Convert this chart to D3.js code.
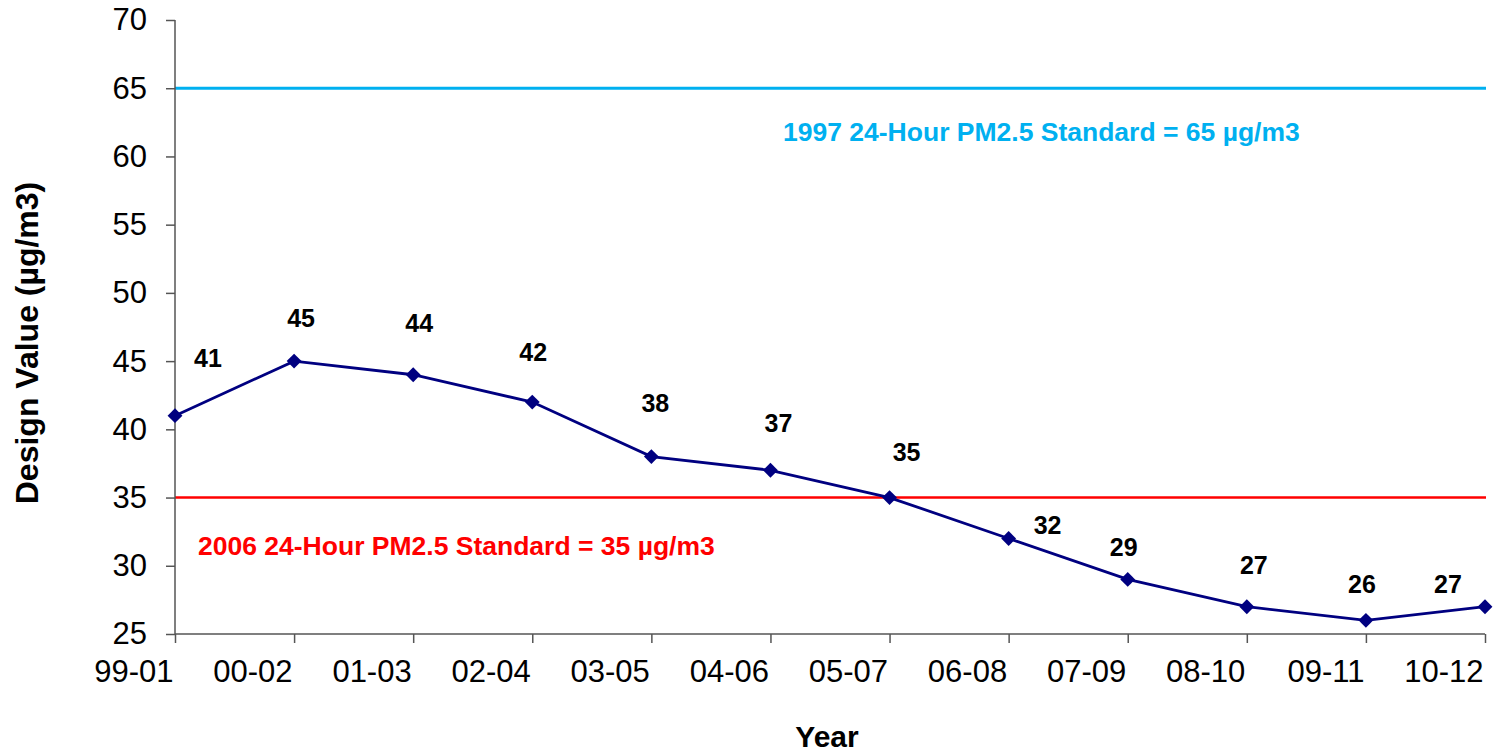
<!DOCTYPE html>
<html>
<head>
<meta charset="utf-8">
<script src="https://cdn.jsdelivr.net/npm/d3@7"></script>
<style>
  html, body { margin: 0; padding: 0; background: #fff; }
  svg { display: block; font-family: "Liberation Sans", Arial, sans-serif; }
</style>
</head>
<body>
<svg id="chart" width="1493" height="755"></svg>
<script>
// ---- Data ----
const categories = ["99-01", "00-02", "01-03", "02-04", "03-05", "04-06", "05-07", "06-08", "07-09", "08-10", "09-11", "10-12"];
const designValues = [41, 45, 44, 42, 38, 37, 35, 32, 29, 27, 26, 27];
const yTicks = [25, 30, 35, 40, 45, 50, 55, 60, 65, 70];
const standardValues = [65, 35];
const standardLabels = ["1997 24-Hour PM2.5 Standard = 65 µg/m3", "2006 24-Hour PM2.5 Standard = 35 µg/m3"];

// ---- Layout (pixel offsets for hand-placed data labels) ----
const labelDx = [33, 7, 6, 1, 4, 8, 17, 39, -4, 7, -4, -37];
const labelDy = [-58, -43, -52, -50, -54, -47, -46, -13, -32, -42, -36, -23];
const standardStyle = [
  { color: "#00B0F0", width: 3, textX: 783, textY: 132 },
  { color: "#FF0000", width: 2.5, textX: 198, textY: 546 }
];

(function () {
  const svg = d3.select("#chart");
  const mLeft = 175, mRight = 1485, mTop = 20, mBottom = 634;
  const FONT = "'Liberation Sans', Arial, sans-serif";

  const x = d3.scalePoint().domain(categories).range([mLeft, mRight]);
  const y = d3.scaleLinear().domain([25, 70]).range([mBottom, mTop]);

  // Standards lines
  standardValues.forEach((v, i) => {
    const st = standardStyle[i];
    svg.append("line")
      .attr("x1", mLeft).attr("x2", mRight + 1)
      .attr("y1", y(v)).attr("y2", y(v))
      .attr("stroke", st.color).attr("stroke-width", st.width);
    svg.append("text")
      .attr("x", st.textX).attr("y", st.textY)
      .attr("dominant-baseline", "central")
      .attr("fill", st.color)
      .attr("font-weight", "bold")
      .attr("font-size", 26.5)
      .text(standardLabels[i]);
  });

  // Y axis
  const yAxis = d3.axisLeft(y).tickValues(yTicks).tickSize(9).tickPadding(19).tickFormat(d3.format("d"));
  const gy = svg.append("g").attr("transform", `translate(${mLeft},0)`).call(yAxis);
  gy.attr("font-family", FONT).attr("font-size", 31);
  gy.select(".domain").attr("stroke", "#555").attr("stroke-width", 1.5).attr("d", `M0,${mTop}V${mBottom}`);
  gy.selectAll(".tick line").attr("stroke", "#555").attr("stroke-width", 1.5);
  gy.selectAll(".tick text").attr("fill", "#000");

  // X axis (labels right-aligned to their tick, as in the original)
  const xAxis = d3.axisBottom(x).tickSize(9).tickPadding(0);
  const gx = svg.append("g").attr("transform", `translate(0,${mBottom})`).call(xAxis);
  gx.attr("font-family", FONT).attr("font-size", 31);
  gx.select(".domain").attr("stroke", "#555").attr("stroke-width", 1.5).attr("d", `M${mLeft},0H${mRight}`);
  gx.selectAll(".tick line").attr("stroke", "#555").attr("stroke-width", 1.5);
  gx.selectAll(".tick text")
    .attr("fill", "#000")
    .attr("text-anchor", "end")
    .attr("x", -2)
    .attr("y", 37)
    .attr("dy", null)
    .attr("dominant-baseline", "central");

  // Series line
  const line = d3.line().x((d, i) => x(categories[i])).y(d => y(d));
  svg.append("path")
    .datum(designValues)
    .attr("d", line)
    .attr("fill", "none")
    .attr("stroke", "#000080")
    .attr("stroke-width", 2.8);

  // Diamond markers
  svg.selectAll("path.marker")
    .data(designValues)
    .join("path")
    .attr("class", "marker")
    .attr("d", d3.symbol().type(d3.symbolSquare).size(110))
    .attr("transform", (d, i) => `translate(${x(categories[i])},${y(d)}) rotate(45)`)
    .attr("fill", "#000080");

  // Data labels
  svg.selectAll("text.dl")
    .data(designValues)
    .join("text")
    .attr("class", "dl")
    .attr("x", (d, i) => x(categories[i]) + labelDx[i])
    .attr("y", (d, i) => y(d) + labelDy[i])
    .attr("text-anchor", "middle")
    .attr("dominant-baseline", "central")
    .attr("font-weight", "bold")
    .attr("font-size", 25)
    .attr("fill", "#000")
    .text(d => d);

  // Axis titles
  svg.append("text")
    .attr("transform", `translate(27,343) rotate(-90)`)
    .attr("text-anchor", "middle")
    .attr("dominant-baseline", "central")
    .attr("font-weight", "bold")
    .attr("font-size", 32)
    .text("Design Value (µg/m3)");

  svg.append("text")
    .attr("x", 827).attr("y", 736)
    .attr("text-anchor", "middle")
    .attr("dominant-baseline", "central")
    .attr("font-weight", "bold")
    .attr("font-size", 30)
    .text("Year");
})();
</script>
</body>
</html>
